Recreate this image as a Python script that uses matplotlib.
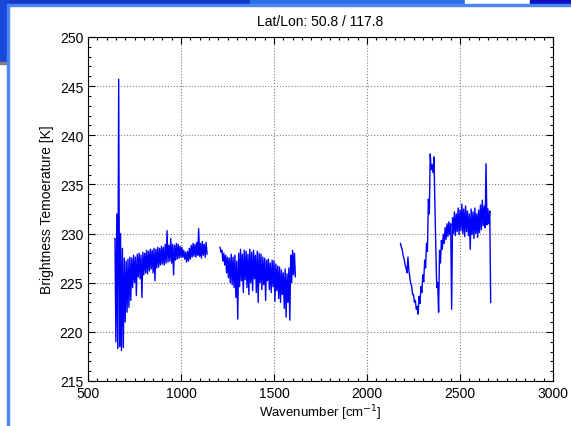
import numpy as np
import matplotlib
matplotlib.use("Agg")
import matplotlib.pyplot as plt
from matplotlib.patches import Rectangle
from matplotlib.ticker import MultipleLocator

plt.rcParams['font.family'] = ['Liberation Sans', 'DejaVu Sans']

# spectrum: upper / lower edge of the noisy trace,
# one pair every 10 cm-1 (upper at start + 10*i, lower 5 cm-1 later)
seg1_start = 645
seg1_hi = [229.5, 232.0, 245.7, 230.0, 228.5, 227.5, 227.2, 227.4, 227.6, 227.5,
           227.8, 227.6, 227.9, 228.0, 227.8, 228.1, 228.0, 228.3, 228.2, 228.4,
           228.3, 228.5, 228.4, 228.6, 228.5, 228.7, 228.6, 228.9, 230.3, 228.8,
           229.5, 228.9, 228.8, 229.0, 228.9, 228.7, 228.6, 228.3, 228.1, 228.2,
           228.5, 228.8, 229.0, 228.9, 229.1, 230.5, 229.0, 229.2, 228.9, 229.1]
seg1_lo = [219.0, 218.3, 218.5, 218.1, 218.4, 221.0, 222.0, 222.5, 223.2, 224.5,
           225.0, 223.7, 225.6, 225.4, 223.5, 225.8, 226.0, 225.9, 226.2, 226.4,
           226.0, 225.2, 226.5, 226.6, 226.8, 226.9, 226.8, 227.0, 227.1, 227.2,
           227.0, 225.8, 227.3, 227.4, 227.5, 227.6, 227.6, 227.4, 227.1, 227.2,
           227.4, 227.6, 227.7, 227.6, 227.8, 227.7, 227.5, 227.8, 227.6, 227.9]

seg2_start = 1210
seg2_hi = [228.6, 228.3, 228.0, 227.8, 227.6, 227.5, 227.9, 227.6, 227.8, 227.2,
           228.0, 228.4, 227.9, 228.3, 228.2, 227.9, 228.4, 228.1, 228.3, 227.8,
           228.2, 228.0, 227.9, 227.6, 227.5, 227.3, 227.4, 227.0, 227.3, 227.2,
           226.9, 226.7, 226.6, 226.3, 226.0, 226.4, 225.9, 226.5, 227.8, 228.3,
           228.0]
seg2_lo = [228.1, 227.2, 226.8, 226.0, 225.5, 225.0, 224.8, 224.5, 223.5, 221.3,
           224.6, 225.2, 224.0, 225.3, 224.5, 223.8, 225.0, 224.2, 225.4, 224.0,
           223.0, 225.0, 224.3, 224.8, 223.2, 225.2, 224.3, 224.0, 224.6, 223.1,
           224.2, 223.4, 223.0, 223.8, 222.4, 221.5, 223.0, 221.2, 225.0, 225.8,
           225.6]

seg3_start = 2180
seg3_hi = [229.0, 228.3, 227.4, 226.5, 227.6, 225.6, 224.7, 223.8, 223.2, 222.6,
           223.6, 224.6, 225.8, 227.3, 229.0, 233.5, 238.1, 237.0, 237.8, 228.5,
           225.0, 228.3, 229.3, 229.9, 230.6, 231.0, 231.2, 231.0, 231.6, 232.2,
           232.0, 232.6, 232.4, 233.0, 232.5, 232.8, 232.3, 232.0, 232.5, 232.2,
           232.6, 232.0, 232.4, 232.9, 233.4, 232.8, 237.1, 232.5, 232.3]
seg3_lo = [228.6, 227.7, 226.8, 226.0, 226.3, 224.9, 223.8, 223.0, 222.3, 221.8,
           222.9, 224.0, 225.1, 226.5, 228.2, 232.0, 236.5, 236.2, 233.0, 224.5,
           222.0, 227.0, 228.4, 229.0, 229.4, 229.7, 229.9, 222.3, 230.0, 229.8,
           230.2, 229.9, 230.3, 230.0, 229.7, 230.2, 229.8, 228.4, 229.9, 229.5,
           230.0, 229.6, 230.1, 230.4, 230.8, 230.6, 230.9, 231.0, 223.0]

title = "Lat/Lon: 50.8 / 117.8"


def zigzag(start, hi, lo):
    n = len(hi)
    x = np.empty(2 * n)
    y = np.empty(2 * n)
    x[0::2] = start + 10 * np.arange(n)
    x[1::2] = start + 10 * np.arange(n) + 5
    y[0::2] = hi
    y[1::2] = lo
    return x, y


W, H = 571, 427
fig = plt.figure(figsize=(W / 100, H / 100), dpi=100)


def px_rect(x0, y0, w, h, color):
    fig.patches.append(Rectangle((x0 / W, 1 - (y0 + h) / H), w / W, h / H,
                                 transform=fig.transFigure, color=color,
                                 zorder=-1))


# bits of the desktop round the window
px_rect(0, 0, 250, 6, '#1238c8')
px_rect(250, 0, 215, 6, '#2a6ee8')
px_rect(465, 0, 65, 6, 'white')
px_rect(530, 0, 41, 6, '#0a10c0')
px_rect(0, 0, 8, 63, '#1a48d8')
px_rect(0, 63, 8, 2, '#808080')
px_rect(8, 5, 563, 2, '#4a86f8')
px_rect(7, 5, 2, 422, '#4a86f8')

ax = fig.add_axes([88 / W, 1 - 382 / H, (553 - 88) / W, (382 - 38) / H])

for start, hi, lo in [(seg1_start, seg1_hi, seg1_lo),
                      (seg2_start, seg2_hi, seg2_lo),
                      (seg3_start, seg3_hi, seg3_lo)]:
    x, y = zigzag(start, hi, lo)
    ax.plot(x, y, color='#0000ff', linewidth=1.0)

ax.set_xlim(500, 3000)
ax.set_ylim(215, 250)
ax.xaxis.set_major_locator(MultipleLocator(500))
ax.xaxis.set_minor_locator(MultipleLocator(50))
ax.yaxis.set_major_locator(MultipleLocator(5))
ax.yaxis.set_minor_locator(MultipleLocator(1))
ax.tick_params(which='both', direction='in', top=True, right=True,
               labelsize=10, width=0.8)
ax.tick_params(which='major', length=5)
ax.tick_params(which='minor', length=2.5)
ax.grid(True, which='major', linestyle=':', color='#808080', linewidth=0.8)
for s in ax.spines.values():
    s.set_linewidth(0.8)

ax.set_title(title, fontsize=10, pad=9)
ax.set_xlabel("Wavenumber [cm$^{-1}$]", fontsize=9.5, labelpad=2)
ax.set_ylabel("Brightness Temoerature [K]", fontsize=10, labelpad=4)

fig.savefig("out.png", dpi=100)
